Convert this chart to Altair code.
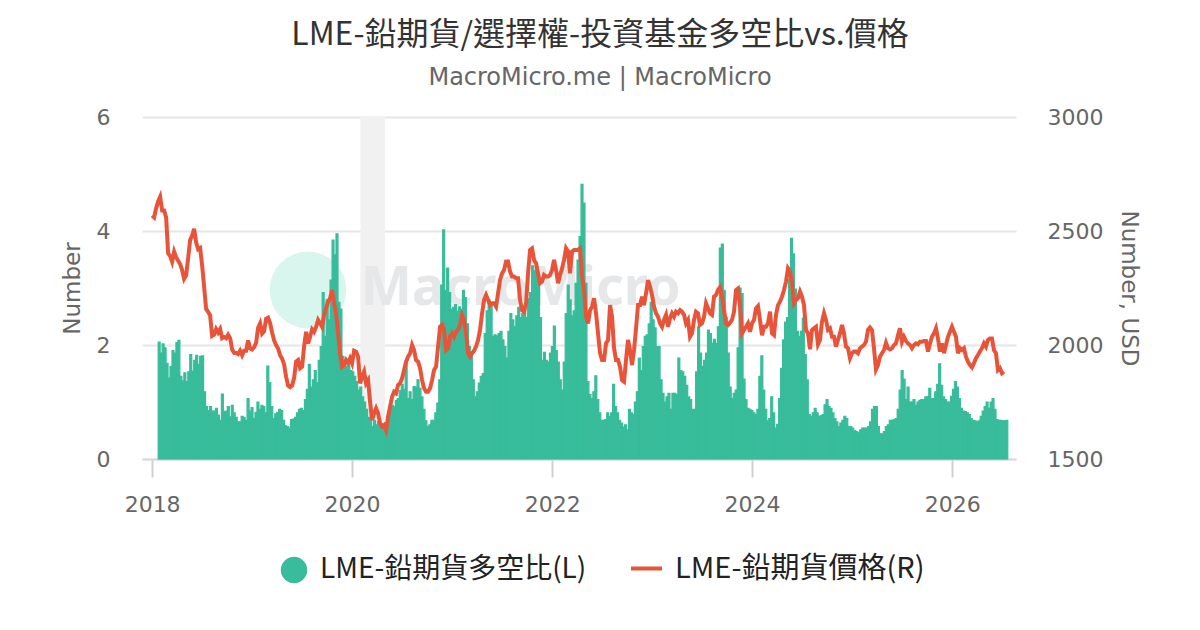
import altair as alt
import pandas as pd

# ---------------- data ----------------
TITLE = "LME-鉛期貨/選擇權-投資基金多空比vs.價格"
SUBTITLE = "MacroMicro.me | MacroMicro"
SERIES_RATIO = "LME-鉛期貨多空比(L)"
SERIES_PRICE = "LME-鉛期貨價格(R)"
WATERMARK = "MacroMicro"

# weekly long/short ratio (left axis)
ratio_2018_2019 = [2.05,1.86,2.02,1.95,1.68,1.42,1.62,1.9,1.86,2.04,2.08,1.45,1.37,1.51,1.36,1.53,1.83,1.54,1.73,1.82,1.66,1.8,1.81,1.18,0.92,0.85,0.92,0.84,0.84,0.89,0.77,0.68,1.14,0.83,0.84,0.92,0.74,0.94,0.81,0.73,0.65,0.65,0.75,0.73,0.68,1.06,0.84,0.9,0.71,0.82,1.0,0.87,0.94,0.92,0.81,1.63,1.34,0.92,0.71,0.79,0.82,0.87,0.85,0.68,0.58,0.57,0.54,0.69,0.7]
ratio_2019_2020 = [0.73,0.81,0.87,0.89,0.85,1.04,1.22,1.66,1.26,1.39,1.55,1.34,1.73,1.97,2.92,2.15,2.79,2.44,3.14,3.84,3.58,3.95,2.75,2.63,1.8,1.68,1.62,1.66,1.55,1.53,1.45,1.36,1.21,1.26,1.09,1.0,0.87,0.73,0.68,0.57,0.68,0.6,0.65,0.57,0.54,0.5,0.57,0.68,0.87,0.94,0.92,1.03,1.06,1.2,1.31,1.22,1.7,1.06,1.18,1.04,1.27,1.26,1.39,1.24,1.09,0.87,0.67,0.57,0.6,0.68,0.68]
ratio_2020_2022 = [0.81,0.98,1.39,3.05,4.02,2.96,3.35,2.92,2.63,2.66,2.71,2.59,2.67,2.51,2.96,2.83,2.37,1.97,1.86,1.39,1.09,1.18,1.33,1.45,1.5,2.2,2.6,2.79,2.72,2.15,2.18,2.16,2.2,2.24,2.09,1.97,1.77,2.24,2.55,2.44,2.32,2.51,2.66,2.48,2.55,2.66,2.48,2.81,2.92,3.39,3.3,3.45,3.16,2.48,1.73,1.87,1.73,1.7,1.86,1.97,2.33,1.9,1.7,1.39,1.21,1.7,2.55,3.05,2.79,2.51,2.6]
ratio_2022_2023 = [3.08,3.49,3.9,4.82,4.49,3.08,1.36,1.13,1.06,1.18,1.46,1.04,0.81,0.68,0.68,0.69,0.81,0.75,0.81,1.31,0.92,0.81,0.68,0.63,0.56,0.6,0.51,0.87,0.81,0.78,1.0,1.18,1.77,1.55,1.97,2.15,2.18,2.37,2.75,2.44,2.3,1.97,1.97,1.39,1.15,1.0,1.09,1.15,0.87,1.15,1.15,1.13,1.77,1.55,1.53,1.45,1.29,1.09,1.04,0.87,0.87,1.53,2.32,1.86,1.62,1.73,1.86,2.26,2.2,2.03,2.1]
ratio_2023_2025 = [2.03,2.32,3.7,3.77,2.96,2.48,1.86,1.26,1.06,1.15,1.21,1.95,3.0,2.9,1.4,1.04,0.89,0.87,0.85,0.81,0.78,0.87,1.45,1.81,1.21,0.87,0.67,0.71,1.09,0.81,0.54,0.61,1.06,1.59,2.09,2.4,2.48,3.16,3.87,3.6,2.98,2.24,2.15,2.24,2.47,1.83,1.39,0.78,0.75,0.81,0.89,0.81,0.75,0.76,0.78,0.95,1.04,0.92,0.89,0.81,0.71,0.65,0.57,0.63,0.68,0.75,0.71,0.57,0.57,0.54,0.5]
ratio_2025_2026 = [0.48,0.46,0.51,0.54,0.54,0.54,0.57,0.65,0.87,0.92,0.92,0.57,0.44,0.44,0.48,0.57,0.6,0.68,0.68,0.69,0.71,0.87,1.21,1.55,1.4,1.04,1.26,1.0,1.0,1.04,0.94,1.0,1.03,1.04,1.04,1.09,1.09,1.24,1.06,1.06,1.18,1.31,1.67,1.29,1.09,1.04,1.0,1.0,1.1,1.22,1.36,1.26,1.06,0.89,0.84,0.83,0.81,0.78,0.71,0.68,0.67,0.65,0.67,0.75,0.84,0.92,1.0,0.89,1.0,1.06,0.87,0.69,0.68,0.68,0.67,0.67,0.68]

# weekly lead price, USD (right axis)
price_2018_2019 = [2568,2560,2600,2630,2650,2590,2590,2560,2402,2390,2365,2409,2385,2370,2355,2329,2290,2305,2380,2460,2480,2510,2450,2420,2425,2350,2256,2158,2145,2130,2040,2045,2070,2055,2070,2030,2035,2030,2045,2030,1980,1966,1965,1960,1975,1955,1975,1975,2020,1985,1980,1990,2010,2075,2095,2050,2060,2115,2120,2095,2055,2020,2000,1984,1955,1940,1915,1860,1822,1815,1822,1855]
price_2019_2020 = [1927,1934,1898,1905,1993,2058,2007,2036,2069,2058,2080,2110,2095,2080,2132,2161,2190,2205,2241,2183,2139,2051,1964,1905,1912,1934,1922,1942,1920,1975,1971,1949,1832,1861,1883,1832,1846,1751,1671,1700,1722,1700,1656,1642,1649,1627,1686,1730,1773,1795,1788,1824,1832,1854,1890,1927,1949,1964,2000,1978,1934,1927,1898,1846,1810,1795,1795,1810,1846,1890]
price_2020_2022 = [1905,1993,2080,2088,2066,1978,1986,2036,2051,2036,2058,2066,2088,2132,2110,2051,1964,1949,1964,1975,1993,2022,2066,2139,2197,2219,2197,2175,2183,2183,2168,2227,2285,2314,2329,2366,2366,2322,2300,2300,2293,2293,2197,2153,2146,2183,2314,2417,2424,2373,2358,2314,2271,2278,2307,2300,2300,2307,2329,2373,2329,2271,2307,2336,2373,2424,2410,2314,2410,2417]
price_2022_2023 = [2417,2417,2424,2300,2241,2124,2095,2153,2168,2205,2139,2051,1964,1934,1934,2007,2022,2175,2124,1986,1934,1934,1905,1846,1839,1934,2022,1978,1912,1978,2073,2175,2175,2212,2175,2227,2285,2256,2219,2168,2139,2124,2095,2080,2110,2132,2080,2117,2139,2124,2146,2139,2153,2146,2132,2095,2110,2036,2051,2110,2146,2139,2088,2095,2124,2183,2161,2139,2132,2212]
price_2023_2025 = [2219,2241,2253,2212,2153,2095,2088,2098,2110,2146,2241,2248,2168,2051,2066,2080,2095,2058,2095,2110,2161,2171,2110,2043,2080,2080,2095,2146,2051,2043,2132,2175,2190,2212,2241,2278,2336,2322,2271,2183,2197,2205,2234,2212,2175,2066,2051,1981,2066,2073,2080,2003,2022,2102,2139,2110,2066,2073,2036,2036,1993,2022,2051,2088,2051,1993,1986,1942,1964,1971]
price_2025_2026 = [1971,1964,1986,1993,2000,2014,2066,2077,2066,1986,1893,1912,1949,1964,1978,2010,1986,1981,1986,2000,2007,2043,2073,2014,2036,2018,2007,2000,1986,2000,2007,2003,2014,2014,2018,2018,1971,2007,2036,2051,2073,2029,1971,2007,1964,2000,2036,2058,2080,2058,2036,1964,1986,1978,1986,1949,1927,1912,1902,1920,1942,1956,1971,1986,2007,1993,2022,2029,2029,1978,1964,1890,1898,1876,1883]

RATIO_FIRST, RATIO_LAST = "2018-01-23", "2026-07-16"
PRICE_FIRST, PRICE_LAST = "2018-01-01", "2026-07-09"
BAND_START, BAND_END = "2020-02-01", "2020-04-30"
X_DOMAIN = ["2017-11-25", "2026-08-22"]
X_TICK_YEARS = [2018, 2020, 2022, 2024, 2026]
LEFT_TICKS = [0, 2, 4, 6]
RIGHT_TICKS = [1500, 2000, 2500, 3000]

ratio_values = (ratio_2018_2019 + ratio_2019_2020 + ratio_2020_2022
                + ratio_2022_2023 + ratio_2023_2025 + ratio_2025_2026)
price_values = (price_2018_2019 + price_2019_2020 + price_2020_2022
                + price_2022_2023 + price_2023_2025 + price_2025_2026)

ratio_df = pd.DataFrame({
    "date": pd.date_range(RATIO_FIRST, RATIO_LAST, periods=len(ratio_values)),
    "ratio": ratio_values,
})
ratio_df["end"] = ratio_df["date"].shift(-1)
ratio_df.loc[ratio_df.index[-1], "end"] = ratio_df["date"].iloc[-1] + pd.Timedelta(days=7)
ratio_df["series"] = SERIES_RATIO

price_df = pd.DataFrame({
    "date": pd.date_range(PRICE_FIRST, PRICE_LAST, periods=len(price_values)),
    "price": price_values,
})
price_df["series"] = SERIES_PRICE

band_df = pd.DataFrame({"start": [BAND_START], "end": [BAND_END]})
one_df = pd.DataFrame({"k": [0]})

# ---------------- styling ----------------
W, H = 874, 342
GREEN = "#38bc9b"
RED = "#e8543a"
AXIS_FONT = "DejaVu Sans"
CJK_FONT = "Noto Sans CJK TC"

x_scale = alt.Scale(domain=[pd.Timestamp(d).isoformat() for d in X_DOMAIN])
x_axis = alt.Axis(
    values=[alt.DateTime(year=y, month=1, date=1) for y in X_TICK_YEARS],
    format="%Y", title=None, grid=False,
    labelFont=AXIS_FONT, labelFontSize=22, labelColor="#666666",
    labelPadding=17, labelFlush=False,
    tickSize=18, tickColor="#d0d0d0", tickWidth=2,
    domainColor="#d9d9d9", domainWidth=2,
)

def xenc(field):
    return alt.X(field, type="temporal", scale=x_scale, axis=x_axis)

band = alt.Chart(band_df).mark_rect(color="#f1f1f1").encode(
    x=xenc("start"), x2="end:T", y=alt.value(0), y2=alt.value(H)
)

wm_circle = alt.Chart(one_df).mark_point(
    filled=True, shape="circle", size=5900, color="#d8f5ee", opacity=1
).encode(x=alt.value(166), y=alt.value(173))

wm_text = alt.Chart(one_df).mark_text(
    text=WATERMARK, fontSize=54, fontWeight="bold", font="Noto Sans",
    color="#e6e7e9", align="left", baseline="middle"
).encode(x=alt.value(219), y=alt.value(172))

bars = alt.Chart(ratio_df).mark_bar(stroke=GREEN, strokeWidth=1.2).encode(
    x=xenc("date"),
    x2="end:T",
    y=alt.Y("ratio:Q",
            scale=alt.Scale(domain=[0, 6], nice=False),
            axis=alt.Axis(orient="left", values=LEFT_TICKS, title="Number",
                          grid=True, gridColor="#e6e6e6", gridWidth=2,
                          domain=False, ticks=False, labelPadding=32, labelFlush=False,
                          labelFont=AXIS_FONT, labelFontSize=22, labelColor="#666666",
                          titleFont=AXIS_FONT, titleFontSize=23, titleColor="#666666",
                          titleFontWeight="normal", titlePadding=12)),
    y2=alt.datum(0),
    fill=alt.Fill("series:N", scale=alt.Scale(domain=[SERIES_RATIO], range=[GREEN]),
                  legend=alt.Legend(orient="none", legendX=138, legendY=439, title=None,
                                    symbolType="circle", symbolSize=700,
                                    symbolStrokeWidth=0, labelFontSize=28,
                                    labelFont=CJK_FONT, labelColor="#222222",
                                    labelOffset=12, padding=0, labelLimit=500)),
)

line = alt.Chart(price_df).mark_line(strokeWidth=4).encode(
    x=xenc("date"),
    y=alt.Y("price:Q",
            scale=alt.Scale(domain=[1500, 3000], nice=False, zero=False),
            axis=alt.Axis(orient="right", values=RIGHT_TICKS, title="Number, USD",
                          format="d", grid=False, domain=False, ticks=False,
                          labelPadding=31, labelFlush=False,
                          labelFont=AXIS_FONT, labelFontSize=22, labelColor="#666666",
                          titleFont=AXIS_FONT, titleFontSize=23, titleColor="#666666",
                          titleFontWeight="normal", titlePadding=14)),
    stroke=alt.Stroke("series:N", scale=alt.Scale(domain=[SERIES_PRICE], range=[RED]),
                      legend=alt.Legend(orient="none", legendX=487, legendY=434, title=None,
                                        symbolType="stroke", symbolSize=961,
                                        symbolStrokeWidth=4, labelFontSize=29,
                                        labelFont=CJK_FONT, labelColor="#222222",
                                        labelOffset=11, padding=0, labelLimit=500)),
)

chart = alt.layer(band, wm_circle, wm_text, bars, line).resolve_scale(
    y="independent", fill="independent", stroke="independent"
).properties(
    width=W, height=H,
    background="white",
    autosize=alt.AutoSizeParams(type="none"),
    padding={"left": 134, "top": 109, "right": 170, "bottom": 150},
    title=alt.TitleParams(
        text=TITLE, subtitle=SUBTITLE, anchor="middle", dx=21,
        font=CJK_FONT, fontSize=32, fontWeight="normal", color="#333333",
        subtitleFont=AXIS_FONT, subtitleFontSize=24, subtitleColor="#666666",
        subtitlePadding=14, offset=15,
    ),
).configure_view(strokeWidth=0, stroke=None)

chart.save("out.html", embed_options={"renderer": "svg", "actions": False})
